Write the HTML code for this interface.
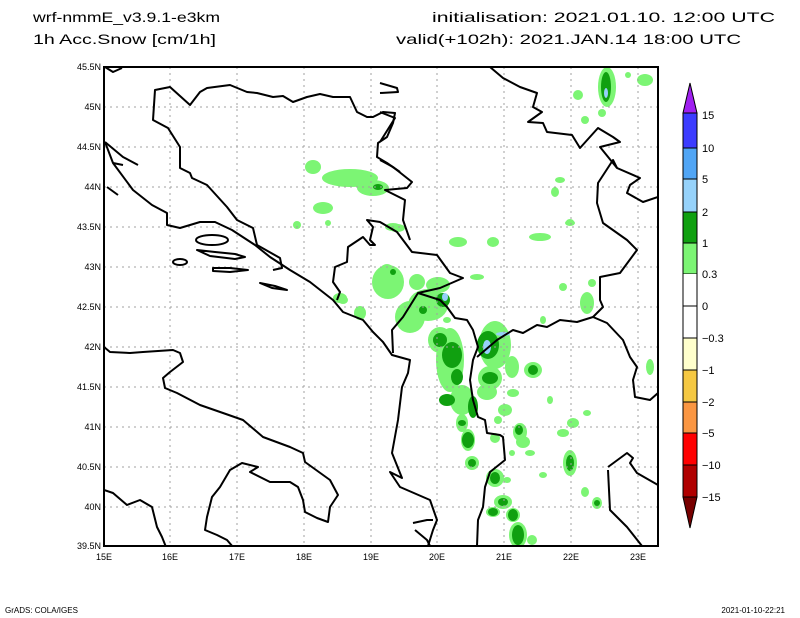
<!DOCTYPE html>
<html><head><meta charset="utf-8"><style>html,body{margin:0;padding:0;background:#fff}svg{display:block}</style></head><body>
<svg width="800" height="618" viewBox="0 0 800 618" xmlns="http://www.w3.org/2000/svg" font-family="Liberation Sans, sans-serif">
<rect width="800" height="618" fill="#fff"/>
<text x="33" y="22" font-size="14" textLength="187" lengthAdjust="spacingAndGlyphs">wrf-nmmE_v3.9.1-e3km</text>
<text x="33" y="44" font-size="14" textLength="183" lengthAdjust="spacingAndGlyphs">1h Acc.Snow [cm/1h]</text>
<text x="432" y="22" font-size="14" textLength="343" lengthAdjust="spacingAndGlyphs">initialisation: 2021.01.10.  12:00 UTC</text>
<text x="396" y="44" font-size="14" textLength="345" lengthAdjust="spacingAndGlyphs">valid(+102h): 2021.JAN.14 18:00 UTC</text>
<defs><clipPath id="c"><rect x="104" y="67" width="554" height="479"/></clipPath></defs>
<g clip-path="url(#c)">
<g fill="#7cf574">
<ellipse cx="313" cy="167" rx="8" ry="7"/><ellipse cx="350" cy="178" rx="28" ry="9"/><ellipse cx="373" cy="188" rx="16" ry="8"/>
<ellipse cx="323" cy="208" rx="10" ry="6"/><ellipse cx="297" cy="225" rx="4" ry="4"/><ellipse cx="328" cy="223" rx="3" ry="3"/>
<ellipse cx="393" cy="227" rx="8" ry="4"/><ellipse cx="387" cy="278" rx="10" ry="14"/><ellipse cx="340" cy="298" rx="7" ry="5"/>
<ellipse cx="397" cy="228" rx="8" ry="4"/><ellipse cx="458" cy="242" rx="9" ry="5"/><ellipse cx="493" cy="242" rx="6" ry="5"/>
<ellipse cx="540" cy="237" rx="11" ry="4"/><ellipse cx="570" cy="223" rx="5" ry="3"/><ellipse cx="388" cy="282" rx="16" ry="17"/>
<ellipse cx="417" cy="282" rx="8" ry="8"/><ellipse cx="360" cy="313" rx="6" ry="7"/><ellipse cx="343" cy="300" rx="5" ry="4"/>
<ellipse cx="428" cy="305" rx="20" ry="16"/><ellipse cx="410" cy="317" rx="15" ry="16"/><ellipse cx="440" cy="340" rx="12" ry="13"/>
<ellipse cx="450" cy="360" rx="14" ry="32"/><ellipse cx="462" cy="400" rx="12" ry="15"/><ellipse cx="495" cy="345" rx="16" ry="24"/>
<ellipse cx="490" cy="378" rx="12" ry="12"/><ellipse cx="487" cy="392" rx="10" ry="8"/><ellipse cx="513" cy="393" rx="6" ry="4"/>
<ellipse cx="512" cy="367" rx="7" ry="11"/><ellipse cx="533" cy="370" rx="9" ry="8"/><ellipse cx="550" cy="400" rx="3" ry="4"/>
<ellipse cx="505" cy="410" rx="7" ry="6"/><ellipse cx="498" cy="420" rx="4" ry="4"/><ellipse cx="520" cy="432" rx="7" ry="9"/>
<ellipse cx="523" cy="442" rx="7" ry="6"/><ellipse cx="462" cy="423" rx="6" ry="9"/><ellipse cx="468" cy="440" rx="7" ry="11"/>
<ellipse cx="495" cy="438" rx="5" ry="5"/><ellipse cx="512" cy="453" rx="3" ry="3"/><ellipse cx="530" cy="453" rx="5" ry="3"/>
<ellipse cx="472" cy="463" rx="7" ry="7"/><ellipse cx="570" cy="463" rx="7" ry="13"/><ellipse cx="543" cy="475" rx="4" ry="3"/>
<ellipse cx="495" cy="478" rx="9" ry="9"/><ellipse cx="507" cy="480" rx="4" ry="3"/><ellipse cx="585" cy="492" rx="4" ry="5"/>
<ellipse cx="597" cy="503" rx="5" ry="6"/><ellipse cx="503" cy="502" rx="9" ry="7"/><ellipse cx="493" cy="512" rx="7" ry="5"/>
<ellipse cx="513" cy="515" rx="7" ry="7"/><ellipse cx="518" cy="535" rx="9" ry="13"/><ellipse cx="532" cy="540" rx="5" ry="5"/>
<ellipse cx="573" cy="423" rx="6" ry="5"/><ellipse cx="563" cy="433" rx="6" ry="4"/><ellipse cx="587" cy="413" rx="4" ry="3"/>
<ellipse cx="587" cy="303" rx="7" ry="11"/><ellipse cx="592" cy="283" rx="4" ry="4"/><ellipse cx="563" cy="287" rx="4" ry="4"/>
<ellipse cx="543" cy="320" rx="3" ry="4"/><ellipse cx="650" cy="367" rx="4" ry="8"/><ellipse cx="477" cy="277" rx="7" ry="3"/>
<ellipse cx="447" cy="320" rx="4" ry="3"/><ellipse cx="607" cy="87" rx="9" ry="20"/><ellipse cx="602" cy="113" rx="4" ry="4"/>
<ellipse cx="578" cy="95" rx="5" ry="5"/><ellipse cx="585" cy="120" rx="4" ry="4"/><ellipse cx="645" cy="80" rx="8" ry="6"/>
<ellipse cx="628" cy="75" rx="3" ry="3"/><ellipse cx="560" cy="180" rx="5" ry="3"/><ellipse cx="555" cy="192" rx="4" ry="5"/>
<ellipse cx="570" cy="222" rx="4" ry="3"/><ellipse cx="438" cy="285" rx="12" ry="8"/>
</g>
<g fill="#10a010">
<ellipse cx="378" cy="187" rx="5" ry="3"/><ellipse cx="393" cy="272" rx="3" ry="3"/><ellipse cx="443" cy="300" rx="7" ry="7"/>
<ellipse cx="423" cy="310" rx="4" ry="4"/><ellipse cx="440" cy="340" rx="7" ry="7"/><ellipse cx="452" cy="355" rx="10" ry="13"/>
<ellipse cx="457" cy="377" rx="6" ry="8"/><ellipse cx="447" cy="400" rx="8" ry="6"/><ellipse cx="473" cy="407" rx="5" ry="11"/>
<ellipse cx="488" cy="345" rx="11" ry="14"/><ellipse cx="490" cy="378" rx="8" ry="6"/><ellipse cx="533" cy="370" rx="5" ry="5"/>
<ellipse cx="519" cy="430" rx="4" ry="5"/><ellipse cx="462" cy="423" rx="4" ry="3"/><ellipse cx="468" cy="440" rx="6" ry="8"/>
<ellipse cx="472" cy="463" rx="4" ry="4"/><ellipse cx="570" cy="463" rx="4" ry="8"/><ellipse cx="495" cy="478" rx="5" ry="6"/>
<ellipse cx="597" cy="503" rx="3" ry="3"/><ellipse cx="503" cy="502" rx="5" ry="4"/><ellipse cx="493" cy="512" rx="5" ry="4"/>
<ellipse cx="513" cy="515" rx="5" ry="6"/><ellipse cx="518" cy="535" rx="6" ry="10"/><ellipse cx="606" cy="87" rx="5" ry="15"/>
</g>
<g fill="#96d0fa">
<ellipse cx="445" cy="297" rx="3" ry="4"/><ellipse cx="487" cy="347" rx="4" ry="7"/><ellipse cx="503" cy="334" rx="7" ry="2"/>
<ellipse cx="606" cy="93" rx="2" ry="5"/>
</g>
<g stroke="#a0a0a0" stroke-width="1" stroke-dasharray="2,4">
<path d="M170 67V546M237 67V546M304 67V546M371 67V546M437 67V546M504 67V546M571 67V546M638 67V546"/>
<path d="M104 107H658M104 147H658M104 187H658M104 227H658M104 267H658M104 307H658M104 347H658M104 387H658M104 427H658M104 467H658M104 507H658"/>
</g>
<g fill="none" stroke="#000" stroke-width="2" stroke-linejoin="round">
<path d="M105 67L113 72L122 68"/>
<path d="M400 172L387 163L377 157L378 143L387 137L393 123L395 113L383 112L373 117L367 117L357 112L350 97L333 97L320 94L307 97L293 102L283 96L273 97L257 93L247 92L230 85L207 88L200 92L190 105L170 87L155 90L153 120L168 128L180 147L180 168L190 173L192 178L207 185L227 207L237 220L253 228L257 245L280 258L282 268L273 270"/>
<path d="M105 142L113 163L133 190L152 205L167 213L167 225L180 228L200 222L215 222L232 230L255 245L270 257L290 270L310 282L333 300L343 312L363 320L373 332L383 342L392 355L410 360L408 373L402 387L398 420L392 453L402 478L390 472L400 487L430 500L437 520L433 530L428 546"/>
<path d="M105 142L123 157L138 165M113 163L123 165"/>
<path d="M107 187L118 195"/>
<path d="M380 83L397 88L398 92L380 93M380 112L395 118L380 142"/>
<path d="M380 160L393 167L412 182L407 188L385 190L405 200L403 220L410 240"/>
<path d="M337 300L340 292L333 282L335 267L347 262L348 247L363 237L370 245L375 245L370 240L373 227L367 220L380 222L397 232L412 252L437 255L450 273L463 278L440 288L418 293L403 317L392 330L393 353"/>
<path d="M418 293L440 300L447 307L455 318L467 320L473 330L478 347L473 360L470 380L473 400L478 417L485 420L487 433L500 435L503 437L505 460L490 472L485 487L483 507L478 520L477 546"/>
<path d="M477 357L497 340L513 330L523 333L537 325L547 327L560 320L577 322L593 317L607 323L623 340L630 357L637 367L633 380L635 397L650 400L658 393"/>
<path d="M593 317L603 307L600 300L600 277L620 273L637 250L627 240L603 223L597 203L598 183L613 160L617 168"/>
<path d="M658 197L643 202L627 193L630 185L640 178L617 168L600 147L620 142L613 137L598 128L580 148L572 135L547 132L543 123L528 122L542 112L533 107L537 93L520 87L503 78L490 67"/>
<path d="M608 467L627 453L633 458L630 463L637 473L658 485M608 470L610 510L627 527L642 546"/>
<path d="M413 523L427 520L433 520M415 530L427 540L430 546"/>
<path d="M104 347L110 352L130 353L143 352L173 350L180 353L183 362L170 372L163 378L165 388L177 393L200 405L223 413L243 420L263 437L290 447L303 453L305 462L330 480L338 495L330 507L328 522L317 518L305 512L303 500L298 487L290 482L270 482L250 472L258 467L242 463L230 470L220 487L212 497L207 517L205 530L217 535L227 540L233 547"/>
<path d="M104 490L113 493L127 505L140 500L152 507L157 527L162 537L166 547"/>
<ellipse cx="212" cy="240" rx="16" ry="5"/>
<path d="M197 250L215 252L235 254L245 257L235 259L210 256Z"/>
<ellipse cx="180" cy="262" rx="7" ry="3"/>
<path d="M213 268L230 268L248 270L230 272L213 271Z"/>
<path d="M260 283L275 286L287 290L272 288Z"/>
</g>
</g>
<rect x="104" y="67" width="554" height="479" fill="none" stroke="#000" stroke-width="2"/>
<g font-size="9" text-anchor="end">
<text x="101" y="70">45.5N</text><text x="101" y="110">45N</text><text x="101" y="150">44.5N</text><text x="101" y="190">44N</text>
<text x="101" y="230">43.5N</text><text x="101" y="270">43N</text><text x="101" y="310">42.5N</text><text x="101" y="350">42N</text>
<text x="101" y="390">41.5N</text><text x="101" y="430">41N</text><text x="101" y="470">40.5N</text><text x="101" y="510">40N</text><text x="101" y="549">39.5N</text>
</g>
<g font-size="9" text-anchor="middle">
<text x="104" y="560">15E</text><text x="170" y="560">16E</text><text x="237" y="560">17E</text><text x="304" y="560">18E</text>
<text x="371" y="560">19E</text><text x="437" y="560">20E</text><text x="504" y="560">21E</text><text x="571" y="560">22E</text><text x="638" y="560">23E</text>
</g>
<g stroke="#000" stroke-width="1">
<polygon points="690,83 683,113 697,113" fill="#a020f0"/>
<rect x="683" y="113" width="14" height="35" fill="#3c3cff"/>
<rect x="683" y="148" width="14" height="31" fill="#50a5f5"/>
<rect x="683" y="179" width="14" height="33" fill="#96d2fa"/>
<rect x="683" y="212" width="14" height="31" fill="#10a010"/>
<rect x="683" y="243" width="14" height="31" fill="#7cf574"/>
<rect x="683" y="274" width="14" height="64" fill="#fff" stroke="none"/>
<rect x="683" y="338" width="14" height="32" fill="#ffffcc"/>
<rect x="683" y="370" width="14" height="32" fill="#f5c842"/>
<rect x="683" y="402" width="14" height="31" fill="#fa9642"/>
<rect x="683" y="433" width="14" height="32" fill="#ff0000"/>
<rect x="683" y="465" width="14" height="32" fill="#b00000"/>
<polygon points="683,497 697,497 690,528" fill="#780000"/>
<path d="M683 274V338M697 274V338M683 306H697" fill="none"/>
</g>
<g font-size="11">
<text x="702" y="119">15</text><text x="702" y="152">10</text><text x="702" y="183">5</text><text x="702" y="216">2</text>
<text x="702" y="247">1</text><text x="702" y="278">0.3</text><text x="702" y="310">0</text><text x="702" y="342">−0.3</text>
<text x="702" y="374">−1</text><text x="702" y="406">−2</text><text x="702" y="437">−5</text><text x="702" y="469">−10</text><text x="702" y="501">−15</text>
</g>
<text x="5" y="613" font-size="8">GrADS: COLA/IGES</text>
<text x="785" y="613" font-size="8" text-anchor="end">2021-01-10-22:21</text>
</svg>
</body></html>
